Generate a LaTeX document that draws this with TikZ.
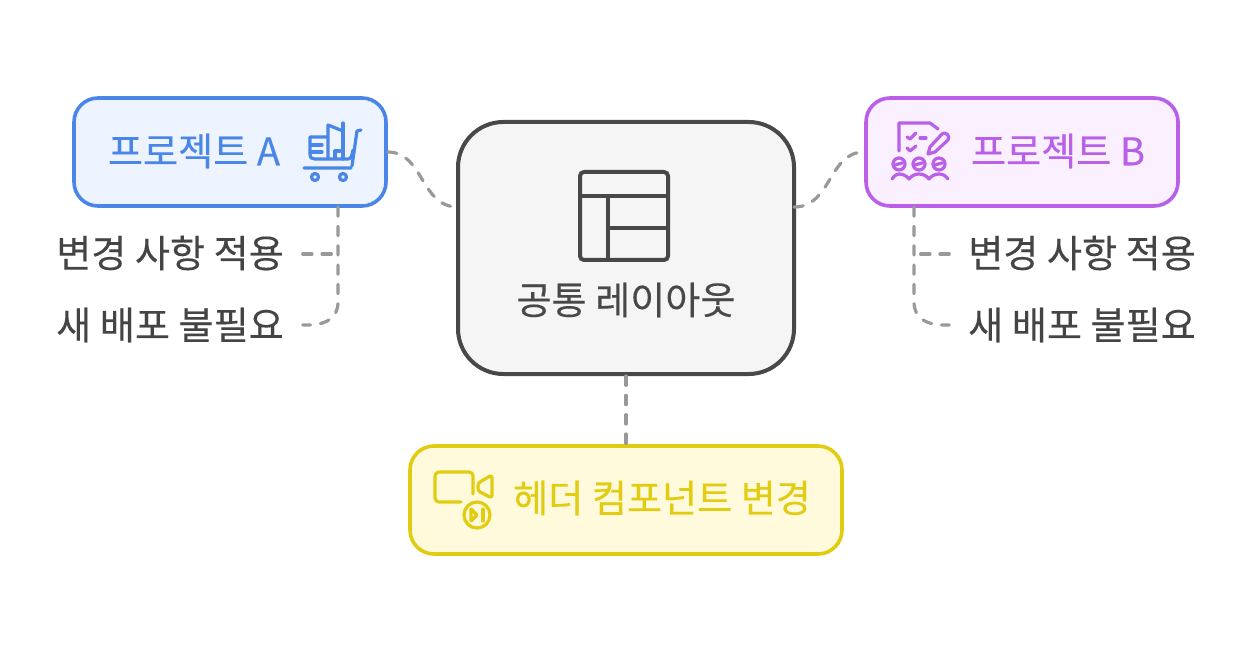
\documentclass[tikz,border=0pt]{standalone}
\usepackage{fontspec}
\setmainfont{Noto Sans CJK KR}[BoldFont={Noto Sans CJK KR},BoldFeatures={FakeBold=0.25}]
\definecolor{blueline}{HTML}{4A86E8}
\definecolor{bluefill}{HTML}{EDF3FF}
\definecolor{purpleline}{HTML}{B95FE8}
\definecolor{purplefill}{HTML}{FAF0FF}
\definecolor{yellowline}{HTML}{E2CC12}
\definecolor{yellowfill}{HTML}{FFFADB}
\definecolor{grayline}{HTML}{484848}
\definecolor{grayfill}{HTML}{F5F5F5}
\definecolor{linkgray}{HTML}{999999}
\definecolor{notegray}{HTML}{444444}
\tikzset{
  box/.style={rectangle,draw,line width=2.7pt,rounded corners=18pt,minimum width=234pt,minimum height=81pt,inner sep=0pt},
  caption/.style={font=\fontsize{28.6}{28.6}\selectfont\bfseries,inner sep=0pt},
  note/.style={caption,text=notegray,inner xsep=14pt},
  link/.style={draw=linkgray,line width=2.4pt,dash pattern=on 7pt off 7.5pt,line cap=round},
  icon/.style={line width=2.4pt,line cap=round,line join=round}
}

\begin{document}
\begin{tikzpicture}[x=0.75pt,y=-0.75pt]
      \useasboundingbox (0,0) rectangle (1252,652);
      \node[box,draw=grayline,fill=grayfill,line width=3pt,minimum width=252pt,minimum height=189pt,rounded corners=34pt] (layout) at (626,248) {};
      \node[box,draw=blueline,fill=bluefill] (A) at (230,152) {};
      \node[box,draw=purpleline,fill=purplefill] (B) at (1022,152) {};
      \node[box,draw=yellowline,fill=yellowfill,minimum width=324pt] (header) at (626,500) {};

      \node[caption,text=grayline] (layouttext) at (626,300) {공통 레이아웃};
      \node[caption,text=blueline] (Atext) at (194,151) {프로젝트 A};
      \node[caption,text=purpleline] (Btext) at (1058,151) {프로젝트 B};
      \node[caption,text=yellowline] (headertext) at (662,498) {헤더 컴포넌트 변경};

      \node[note] (A1) at (170,253) {변경 사항 적용};
      \node[note] (A2) at (170,325) {새 배포 불필요};
      \node[note] (B1) at (1082,253) {변경 사항 적용};
      \node[note] (B2) at (1082,325) {새 배포 불필요};

      \coordinate (layoutL) at (458,207);
      \coordinate (layoutR) at (794,207);
      \coordinate (Adrop) at (338,207);
      \coordinate (Bdrop) at (914,207);
      \coordinate (Abranch) at (338,254);
      \coordinate (Bbranch) at (914,254);

      % links
      \draw[link] (A.east) .. controls (424,152) and (420,207) .. (layoutL);
      \draw[link] (layoutR) .. controls (832,207) and (828,152) .. (B.west);
      \draw[link] (layout.south) -- (header.north);
      \draw[link] (Adrop) -- (338,302) .. controls (338,318) and (326,326) .. (A2.east);
      \draw[link] (A1.east |- Abranch) -- (Abranch);
      \draw[link] (Bdrop) -- (914,302) .. controls (914,318) and (926,326) .. (B2.west);
      \draw[link] (B1.west |- Bbranch) -- (Bbranch);

      % layout icon
      \draw[grayline,line width=3pt,rounded corners=3pt] (580,172) rectangle (668,260);
      \draw[grayline,line width=3pt] (580,196) -- (668,196) (608,196) -- (608,260) (608,228) -- (668,228);

      % cart icon
      \begin{scope}[icon,draw=blueline]
        \draw (361,130) -- (357,131) -- (352,166) (304,168) -- (351,168);
        \draw (343,123) -- (343,159);
        \draw (328,158) -- (328,125) -- (343,131);
        \draw (327,137) -- (310,137) -- (310,154) .. controls (310,158) and (312,159) .. (315,159) -- (348,159) .. controls (351,159) and (352,156) .. (353,150);
        \draw (311,145) -- (322,145) (311,152) -- (322,152);
        \draw (335,158) -- (335,151) -- (340,151);
        \draw (315,177) circle (3.5);
        \draw (343,177) circle (3.5);
      \end{scope}

      % review icon
      \begin{scope}[icon,draw=purpleline]
        \draw (899,151) -- (899,123) -- (930,123) -- (938,129);
        \draw (907,137) -- (910,139) -- (916,133);
        \draw (920,138) -- (926,138);
        \draw (907,148) -- (910,151) -- (916,146);
        \draw (928,154) -- (930,147) -- (942,134) .. controls (945,131) and (951,136) .. (948,140) -- (935,152) -- cycle;
        \foreach \headx in {899,919,939} {
          \draw (\headx,164) circle (6);
          \draw (\headx-4,165) -- (\headx+3,163);
        }
        \draw (892,179) .. controls (895,175) and (897,174) .. (899,174) .. controls (903,174) and (907,176) .. (909,179) .. controls (911,176) and (915,174) .. (919,174) .. controls (923,174) and (927,176) .. (929,179) .. controls (931,176) and (935,174) .. (939,174) .. controls (943,174) and (946,176) .. (948,179);
      \end{scope}

      % video icon
      \begin{scope}[icon,draw=yellowline]
        \draw[rounded corners=3pt] (473,494) -- (473,472) -- (435,472) -- (435,502) -- (461,502);
        \draw[rounded corners=2pt] (478,483) -- (492,475) -- (492,498) -- (478,491) -- cycle;
        \draw (477,515) circle (13);
        \draw (471,509) -- (471,521) -- (477,515) -- cycle;
        \draw (483,509) -- (483,521);
      \end{scope}
    \end{tikzpicture}
\end{document}
